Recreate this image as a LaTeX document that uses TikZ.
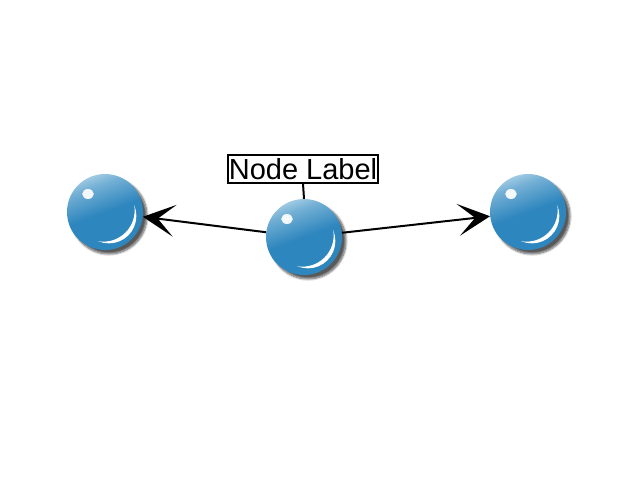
\documentclass[tikz,border=0pt]{standalone}
\usepackage{fontspec}
\setmainfont{Liberation Sans}
\usetikzlibrary{arrows.meta,shadows.blur,calc}
\definecolor{sphblue}{RGB}{46,134,190}
\definecolor{sphlight}{RGB}{200,226,240}
\pgfdeclareverticalshading{sphshade}{100bp}{color(0bp)=(sphblue); color(50bp)=(sphblue); color(68bp)=(sphblue!55!sphlight); color(82bp)=(sphlight); color(100bp)=(sphlight)}
\tikzset{
  sphere/.style={circle, minimum size=76pt, inner sep=0pt, shading=sphshade, shading angle=20,
    blur shadow={shadow xshift=4pt, shadow yshift=-4pt, shadow blur steps=8, shadow opacity=65}},
  conn/.style={line width=2pt, -{Stealth[length=32pt, width=32pt, inset=17pt]}},
  labelbox/.style={draw, line width=2pt, fill=white, inner xsep=1pt, inner ysep=3pt, font=\fontsize{29}{31}\selectfont}
}
\newcommand{\glint}[1]{%
  \fill[white, opacity=0.92] ($(#1)+(-17,-18)$) ellipse[x radius=5.8pt, y radius=5pt];
  \begin{scope}
    \clip ($(#1)+(3.96,3.96)$) circle[radius=27.4];
    \fill[white, even odd rule] ($(#1)+(-40,-40)$) rectangle ($(#1)+(40,40)$)
      ($(#1)+(-1.53,-1.53)$) circle[radius=31.17];
  \end{scope}
}
\begin{document}
\begin{tikzpicture}[x=1pt, y=-1pt]
\useasboundingbox (0,0) rectangle (640,480);
\node[sphere] (left) at (105,212) {};
\node[sphere] (mid) at (304,237) {};
\node[sphere] (right) at (528,212) {};
\glint{left}
\glint{mid}
\glint{right}
\node[labelbox] (lab) at (303,169) {Node Label};
\draw[line width=2pt] (lab.south) -- (mid.north);
\draw[conn] (mid) -- (left);
\draw[conn] (mid) -- (right);
\end{tikzpicture}
\end{document}
